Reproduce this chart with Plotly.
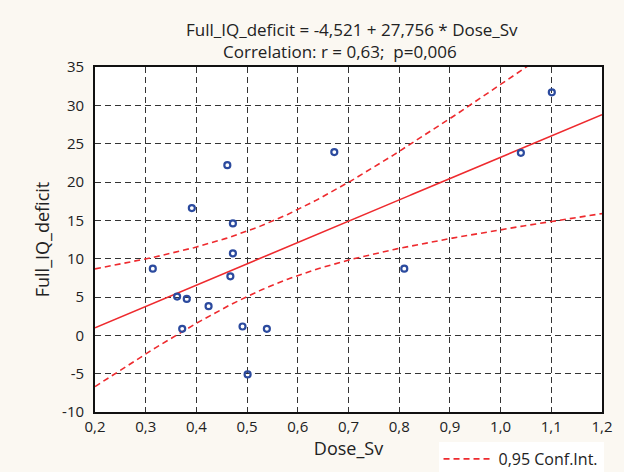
import numpy as np
import plotly.graph_objects as go

# Data
dose_sv = [0.314, 0.472, 0.467, 0.362, 0.381, 0.424, 0.372, 0.491, 0.539, 0.501,
           0.461, 0.391, 0.472, 0.672, 1.101, 1.040, 0.810]
full_iq_deficit = [8.7, 10.7, 7.7, 5.05, 4.75, 3.8, 0.85, 1.15, 0.85, -5.1,
                   22.2, 16.6, 14.6, 23.9, 31.7, 23.8, 8.7]

title_line1 = "Full_IQ_deficit = -4,521 + 27,756 * Dose_Sv"
title_line2 = "Correlation: r = 0,63;  p=0,006"
x_ticks = [0.2, 0.3, 0.4, 0.5, 0.6, 0.7, 0.8, 0.9, 1.0, 1.1, 1.2]
x_tick_labels = ["0,2", "0,3", "0,4", "0,5", "0,6", "0,7", "0,8", "0,9", "1,0", "1,1", "1,2"]
y_ticks = [-10, -5, 0, 5, 10, 15, 20, 25, 30, 35]
y_tick_labels = ["-10", "-5", "0", "5", "10", "15", "20", "25", "30", "35"]
t_crit = 2.131  # t(0.975, df=15)

x = np.array(dose_sv)
y = np.array(full_iq_deficit)
n = len(x)
slope, intercept = np.polyfit(x, y, 1)
resid = y - (intercept + slope * x)
s = np.sqrt(np.sum(resid ** 2) / (n - 2))
xm = x.mean()
sxx = np.sum((x - xm) ** 2)
xg = np.linspace(0.2, 1.2, 201)
yfit = intercept + slope * xg
half = t_crit * s * np.sqrt(1.0 / n + (xg - xm) ** 2 / sxx)

FONT = "Open Sans, Noto Sans, Liberation Sans, sans-serif"
RED = "#EE2A2E"
BLUE = "#2B4A9E"
TXT = "#222222"

fig = go.Figure()
fig.add_trace(go.Scatter(x=xg, y=yfit, mode="lines", line=dict(color=RED, width=1.6),
                         showlegend=False, hoverinfo="skip"))
fig.add_trace(go.Scatter(x=xg, y=yfit + half, mode="lines",
                         line=dict(color=RED, width=1.6, dash="6px,4px"),
                         name="0,95 Conf.Int.", legendgroup="ci", showlegend=True))
fig.add_trace(go.Scatter(x=xg, y=yfit - half, mode="lines",
                         line=dict(color=RED, width=1.6, dash="6px,4px"),
                         name="0,95 Conf.Int.", legendgroup="ci", showlegend=False))
fig.add_trace(go.Scatter(x=dose_sv, y=full_iq_deficit, mode="markers",
                         marker=dict(symbol="circle-open", size=6, color=BLUE,
                                     line=dict(width=2.2, color=BLUE)),
                         showlegend=False))

fig.update_layout(
    width=624, height=472,
    paper_bgcolor="#FBF8F2", plot_bgcolor="white",
    margin=dict(l=95, r=22, t=67, b=60, autoexpand=False),
    font=dict(family=FONT, size=15, color=TXT),
    legend=dict(x=1.003, xanchor="right", y=-0.087, yanchor="top", bgcolor="white",
                font=dict(family=FONT, size=16, color=TXT),
                borderwidth=0, itemwidth=50),
    annotations=[
        dict(text=title_line1, xref="paper", yref="paper", x=0.507, y=1,
             xanchor="center", yanchor="middle", yshift=38, showarrow=False,
             font=dict(family=FONT, size=17, color=TXT)),
        dict(text=title_line2, xref="paper", yref="paper", x=0.484, y=1,
             xanchor="center", yanchor="middle", yshift=16, showarrow=False,
             font=dict(family=FONT, size=17, color=TXT)),
    ],
)
fig.update_xaxes(range=[0.2, 1.2], tickvals=x_ticks, ticktext=x_tick_labels,
                 showgrid=True, gridcolor="#333333", griddash="6px,4px", gridwidth=1,
                 showline=True, linecolor="#111111", linewidth=1.8, mirror=True,
                 zeroline=False, ticks="", title=dict(text="Dose_Sv", standoff=3),
                 tickfont=dict(size=15))
fig.update_yaxes(range=[-10, 35], tickvals=y_ticks, ticktext=y_tick_labels,
                 showgrid=True, gridcolor="#333333", griddash="6px,4px", gridwidth=1,
                 showline=True, linecolor="#111111", linewidth=1.8, mirror=True,
                 zeroline=False, ticks="", ticklabelstandoff=6,
                 title=dict(text="Full_IQ_deficit", standoff=8),
                 tickfont=dict(size=15))

fig.write_html("out.html", config={"displayModeBar": False},
               post_script="document.body.style.margin='0';document.body.style.overflow='hidden';")
